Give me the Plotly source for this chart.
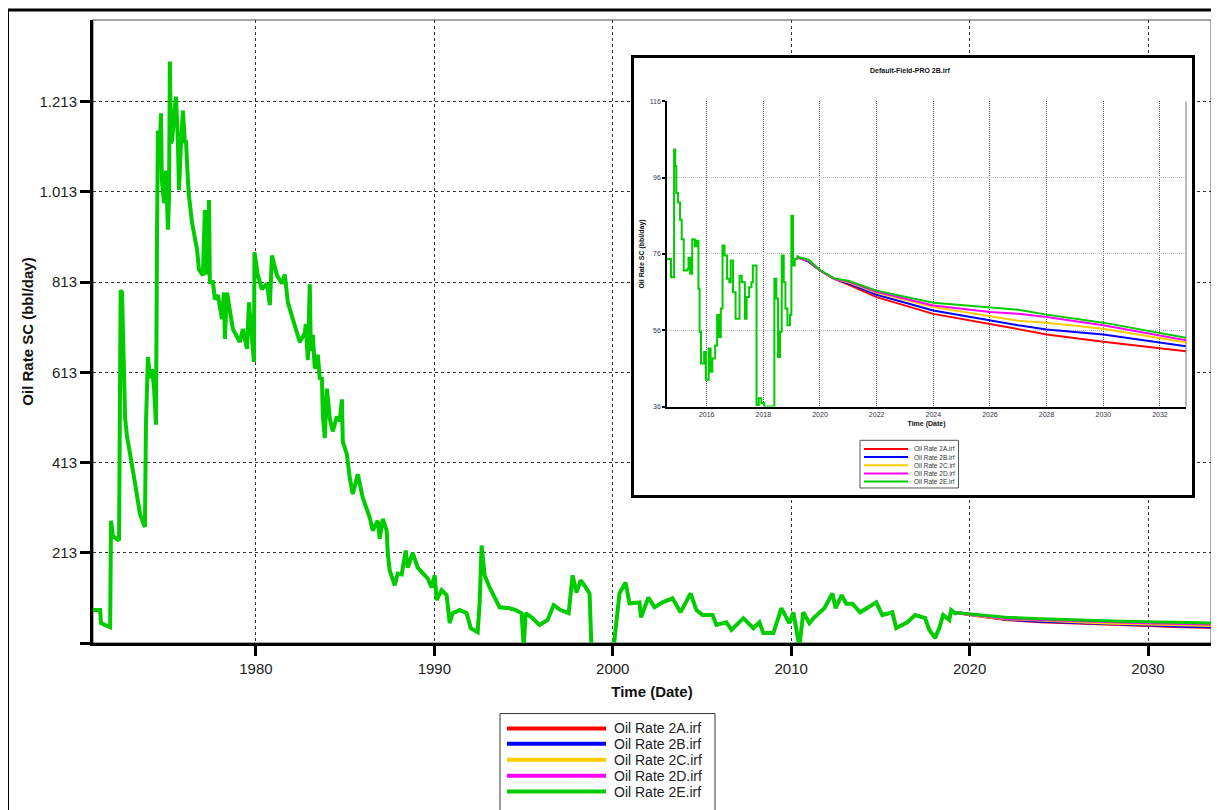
import plotly.graph_objects as go

# ---------------- DATA ----------------
main_hist_years = [1970.87, 1971.27, 1971.32, 1971.71, 1971.83, 1971.88, 1971.99, 1972.16, 1972.33, 1972.42,
    1972.50, 1972.55, 1972.61, 1972.67, 1972.78, 1972.89, 1973.00, 1973.17, 1973.28, 1973.39,
    1973.50, 1973.67, 1973.78, 1973.84, 1973.90, 1973.95, 1974.07, 1974.18, 1974.29, 1974.40,
    1974.46, 1974.51, 1974.62, 1974.68, 1974.73, 1974.85, 1974.96, 1975.07, 1975.13, 1975.18,
    1975.24, 1975.30, 1975.41, 1975.52, 1975.63, 1975.69, 1975.80, 1975.91, 1976.02, 1976.08,
    1976.19, 1976.25, 1976.42, 1976.70, 1976.81, 1977.03, 1977.14, 1977.20, 1977.31, 1977.37,
    1977.42, 1977.59, 1977.70, 1977.87, 1978.10, 1978.21, 1978.26, 1978.38, 1978.71, 1979.10,
    1979.27, 1979.50, 1979.61, 1979.78, 1979.89, 1979.92, 1980.11, 1980.34, 1980.62, 1980.78,
    1980.90, 1981.18, 1981.46, 1981.62, 1981.79, 1982.07, 1982.46, 1982.74, 1982.80, 1982.91,
    1983.02, 1983.08, 1983.19, 1983.30, 1983.47, 1983.58, 1983.70, 1983.75, 1983.86, 1983.98,
    1984.14, 1984.31, 1984.54, 1984.70, 1984.82, 1984.87, 1985.10, 1985.26, 1985.43, 1985.71,
    1985.99, 1986.38, 1986.55, 1986.83, 1986.94, 1987.11, 1987.33, 1987.39, 1987.50, 1987.78,
    1987.95, 1988.17, 1988.40, 1988.51, 1988.79, 1989.07, 1989.35, 1989.63, 1989.85, 1990.02,
    1990.13, 1990.41, 1990.69, 1990.86, 1991.03, 1991.42, 1991.81, 1992.04, 1992.43, 1992.54,
    1992.65, 1992.82, 1993.10, 1993.66, 1994.22, 1994.56, 1994.89, 1995.01, 1995.12, 1995.45,
    1995.90, 1996.35, 1996.69, 1997.08, 1997.53, 1997.75, 1997.97, 1998.20, 1998.42, 1998.70,
    1998.81, 2000.04, 2000.38, 2000.72, 2000.94, 2001.50, 2001.58, 2002.00, 2002.34, 2002.79,
    2003.35, 2003.80, 2004.36, 2004.69, 2005.03, 2005.59, 2005.81, 2006.37, 2006.65, 2007.32,
    2007.88, 2008.22, 2008.44, 2009.00, 2009.45, 2009.90, 2010.12, 2010.46, 2010.68, 2011.02,
    2011.30, 2011.86, 2012.31, 2012.49, 2012.83, 2013.09, 2013.43, 2013.87, 2014.77, 2015.11,
    2015.67, 2015.89, 2016.51, 2016.95, 2017.51, 2017.74, 2018.07, 2018.30, 2018.52, 2018.86,
    2018.97, 2019.19, 2019.30]
main_hist_rate = [86, 86, 57, 50, 48, 284, 250, 245, 240, 795,
    790, 700, 560, 511, 470, 440, 420, 380, 350, 320,
    300, 280, 270, 500, 620, 647, 600, 620, 580, 497,
    922, 1149, 1121, 1187, 1039, 988, 1060, 929, 1000, 1302,
    1121, 1127, 1180, 1224, 1121, 1017, 1120, 1193, 1121, 1127,
    1039, 1004, 945, 885, 841, 828, 973, 830, 850, 995,
    813, 813, 775, 784, 731, 790, 687, 790, 709, 680,
    709, 665, 768, 690, 636, 879, 828, 797, 810, 762,
    872, 828, 810, 830, 768, 731, 680, 700, 720, 640,
    808, 660, 696, 621, 652, 600, 599, 520, 467, 577,
    511, 482, 515, 505, 553, 460, 431, 379, 343, 387,
    335, 291, 262, 284, 244, 288, 262, 211, 174, 141,
    167, 165, 218, 180, 213, 180, 167, 156, 136, 163,
    108, 130, 119, 57, 79, 86, 79, 46, 37, 101,
    229, 163, 136, 92, 90, 86, 79, 5, 79, 70,
    53, 64, 97, 86, 79, 163, 125, 152, 140, 123,
    0, 0, 123, 147, 101, 103, 70, 114, 92, 103,
    112, 81, 123, 86, 75, 75, 53, 59, 42, 68,
    46, 59, 35, 35, 90, 57, 81, 5, 81, 57,
    70, 90, 123, 90, 119, 100, 100, 81, 103, 75,
    81, 46, 59, 75, 68, 42, 24, 46, 75, 64,
    86, 79, 80]

main_fc_years = [2019.3, 2020, 2021, 2022, 2024, 2026, 2028, 2030, 2032, 2033.6]
main_fc_2A = [80, 76, 70, 65, 60, 57, 54, 51, 49, 48]
main_fc_2B = [80, 76, 71, 66, 61, 58, 55, 52, 50, 49]
main_fc_2C = [80, 76, 71, 67, 63, 60, 57, 55, 53, 52]
main_fc_2D = [80, 77, 72, 68, 65, 62, 60, 58, 56, 55]
main_fc_2E = [80, 77, 73, 70, 67, 64, 62, 60, 58, 57]

inset_hist_years = [2014.6, 2014.73, 2014.74, 2014.84, 2014.85, 2014.89, 2014.93, 2014.99, 2015.06, 2015.12,
    2015.19, 2015.32, 2015.36, 2015.42, 2015.49, 2015.58, 2015.65, 2015.71, 2015.75, 2015.80,
    2015.91, 2015.97, 2016.07, 2016.14, 2016.20, 2016.30, 2016.37, 2016.43, 2016.50, 2016.56,
    2016.63, 2016.72, 2016.80, 2016.85, 2016.93, 2017.02, 2017.11, 2017.16, 2017.24, 2017.35,
    2017.41, 2017.50, 2017.58, 2017.63, 2017.74, 2017.76, 2017.84, 2017.93, 2018.03, 2018.33,
    2018.39, 2018.46, 2018.52, 2018.59, 2018.65, 2018.72, 2018.78, 2018.85, 2018.94, 2018.99,
    2019.05, 2019.11, 2019.2]
inset_hist_rate = [74.7, 74.7, 69.9, 69.9, 103.4, 99, 92, 89.5, 85, 79.9,
    71.7, 72, 75, 70.8, 79.9, 78, 79.5, 66.9, 55.6, 47.3,
    50.3, 43, 51.2, 45.1, 48.6, 52, 60, 54.2, 61.7, 78.2,
    75.6, 69.5, 68.6, 74.3, 66, 59, 59, 70.3, 68.6, 59,
    64.7, 67.3, 68.6, 73, 73, 36.4, 38.2, 36.9, 36, 36,
    69.5, 64.3, 49, 55.6, 75.6, 68.6, 61.7, 57.3, 60, 86,
    73, 74.7, 75.7]

inset_fc_years = [2019.2, 2019.6, 2020.0, 2020.5, 2021.0, 2022.0, 2024.0, 2026.0, 2027.0, 2028.0, 2030.0, 2032.92]
inset_fc_2A = [75.1, 74.0, 71.7, 69.5, 68.0, 64.7, 60.3, 57.7, 56.3, 54.9, 53.0, 50.5]
inset_fc_2B = [75.1, 74.0, 71.7, 69.5, 68.3, 65.3, 61.2, 58.6, 57.3, 56.2, 54.9, 51.8]
inset_fc_2C = [75.1, 74.2, 71.7, 69.5, 68.6, 65.8, 62.1, 59.7, 58.5, 58.0, 56.4, 52.8]
inset_fc_2D = [75.1, 74.3, 71.7, 69.5, 68.8, 66.1, 62.5, 60.8, 60.3, 59.5, 57.3, 53.4]
inset_fc_2E = [75.3, 74.5, 71.8, 69.6, 69.0, 66.4, 63.2, 62.1, 61.4, 60.1, 58.0, 54.0]

series_names = ["Oil Rate 2A.irf", "Oil Rate 2B.irf", "Oil Rate 2C.irf", "Oil Rate 2D.irf", "Oil Rate 2E.irf"]
series_colors = ["#ff0000", "#0000ff", "#ffcc00", "#ff00ff", "#00cc00"]

main_ytick_vals = [13, 213, 413, 613, 813, 1013, 1213]
main_ytick_text = ["", "213", "413", "613", "813", "1.013", "1.213"]
main_xtick_vals = [1980, 1990, 2000, 2010, 2020, 2030]
inset_ytick_vals = [36, 56, 76, 96, 116]
inset_xtick_vals = [2016, 2018, 2020, 2022, 2024, 2026, 2028, 2030, 2032]

main_title_x = "Time (Date)"
main_title_y = "Oil Rate SC (bbl/day)"
inset_title = "Default-Field-PRO 2B.irf"

# ---------------- LAYOUT HELPERS (screen pixel -> paper) ----------------
OFF = 8  # page body margin
W, H = 1219 - OFF, 810 - OFF
PL, PR, PT, PB = 93, 1211, 16, 643  # plot area in screen pixels


def fx(x):
    return (x - PL) / (PR - PL)


def fy(y):
    return (PB - y) / (PB - PT)


FONT = "Liberation Sans, Arial, sans-serif"

fig = go.Figure()

# main chart traces
fig.add_trace(go.Scatter(x=main_hist_years, y=main_hist_rate, mode="lines",
                         line=dict(color=series_colors[4], width=4),
                         showlegend=False, xaxis="x", yaxis="y", name=series_names[4]))
main_fc = [main_fc_2A, main_fc_2B, main_fc_2C, main_fc_2D, main_fc_2E]
for name, col, vals in zip(series_names, series_colors, main_fc):
    fig.add_trace(go.Scatter(x=main_fc_years, y=vals, mode="lines", line=dict(color=col, width=3),
                             showlegend=False, xaxis="x", yaxis="y", name=name))

# cover subplot (inset frame)
fig.add_trace(go.Scatter(x=[None], y=[None], xaxis="x2", yaxis="y2", showlegend=False, hoverinfo="skip"))

# inset traces
fig.add_trace(go.Scatter(x=inset_hist_years, y=inset_hist_rate, mode="lines",
                         line=dict(color=series_colors[4], width=2, shape="hv"),
                         showlegend=False, xaxis="x3", yaxis="y3", name=series_names[4]))
inset_fc = [inset_fc_2A, inset_fc_2B, inset_fc_2C, inset_fc_2D, inset_fc_2E]
for name, col, vals in zip(series_names, series_colors, inset_fc):
    fig.add_trace(go.Scatter(x=inset_fc_years, y=vals, mode="lines", line=dict(color=col, width=2),
                             showlegend=False, xaxis="x3", yaxis="y3", name=name))

axis_common = dict(zeroline=False, fixedrange=True)

fig.update_layout(
    width=W, height=H, autosize=False,
    margin=dict(l=PL - OFF, r=1219 - PR, t=PT - OFF, b=810 - PB, pad=0),
    paper_bgcolor="white", plot_bgcolor="white",
    font=dict(family=FONT, color="#222222"),
    showlegend=False,
    xaxis=dict(**axis_common, domain=[0, 1], anchor="y", range=[1970.87, 2033.53],
               tickmode="array", tickvals=main_xtick_vals,
               ticks="outside", ticklen=10, tickwidth=3, tickcolor="black",
               showline=True, linewidth=3, linecolor="black",
               showgrid=True, gridcolor="#333333", gridwidth=1, griddash="3px,3px",
               tickfont=dict(size=15, color="#222222"),
               title=dict(text="<b>" + main_title_x + "</b>", font=dict(size=15, color="#111111"), standoff=11)),
    yaxis=dict(**axis_common, domain=[0, 1], anchor="x", range=[13, 1394],
               tickmode="array", tickvals=main_ytick_vals, ticktext=main_ytick_text,
               ticks="outside", ticklen=10, tickwidth=3, tickcolor="black",
               showline=True, linewidth=3, linecolor="black",
               showgrid=True, gridcolor="#333333", gridwidth=1, griddash="3px,3px",
               tickfont=dict(size=15, color="#222222"),
               title=dict(text="<b>" + main_title_y + "</b>", font=dict(size=15, color="#111111"), standoff=3)),
    xaxis2=dict(**axis_common, domain=[fx(634), fx(1192)], anchor="y2", range=[0, 1],
                showgrid=False, showticklabels=False, ticks="",
                showline=True, mirror=True, linewidth=3, linecolor="black"),
    yaxis2=dict(**axis_common, domain=[fy(494), fy(54)], anchor="x2", range=[0, 1],
                showgrid=False, showticklabels=False, ticks="",
                showline=True, mirror=True, linewidth=3, linecolor="black"),
    xaxis3=dict(**axis_common, domain=[fx(667), fx(1186)], anchor="y3", range=[2014.6, 2032.92],
                tickmode="array", tickvals=inset_xtick_vals, ticks="",
                showline=True, linewidth=1.5, linecolor="black",
                showgrid=True, gridcolor="#555555", gridwidth=1, griddash="1px,1px",
                tickfont=dict(size=7, color="#333344"),
                title=dict(text="<b>" + main_title_x + "</b>", font=dict(size=7, color="#111111"), standoff=4)),
    yaxis3=dict(**axis_common, domain=[fy(405), fy(98)], anchor="x3", range=[36, 116],
                tickmode="array", tickvals=inset_ytick_vals,
                ticks="outside", ticklen=3, tickwidth=1.5, tickcolor="black",
                showline=True, linewidth=1.5, linecolor="black",
                showgrid=True, gridcolor="#bbbbbb", gridwidth=1, griddash="1px,1px",
                tickfont=dict(size=7, color="#333355"),
                title=dict(text="<b>" + main_title_y + "</b>", font=dict(size=7, color="#111111"), standoff=4)),
)

shapes = []
# outer frame
shapes.append(dict(type="rect", xref="paper", yref="paper", x0=fx(7.5), x1=fx(1217), y0=fy(830), y1=fy(6),
                   line=dict(color="black", width=3), fillcolor="rgba(0,0,0,0)", layer="below"))
# main plot light border (top/right)
shapes.append(dict(type="rect", xref="paper", yref="paper", x0=0, x1=1, y0=0, y1=1,
                   line=dict(color="#888888", width=1.5), fillcolor="rgba(0,0,0,0)", layer="below"))
# inset right edge line
shapes.append(dict(type="line", xref="x3 domain", yref="y3 domain", x0=1, x1=1, y0=0, y1=1,
                   line=dict(color="#777777", width=1), layer="above"))

annotations = []
# inset title
annotations.append(dict(xref="paper", yref="paper", x=fx(910), y=fy(67), text="<b>" + inset_title + "</b>",
                        showarrow=False, xanchor="center", yanchor="middle", font=dict(size=7, color="#111111")))

# main legend (drawn manually)
shapes.append(dict(type="rect", xref="paper", yref="paper", x0=fx(500), x1=fx(715), y0=fy(830), y1=fy(714),
                   line=dict(color="#333333", width=1), fillcolor="white", layer="above"))
main_leg_rows = [729, 744.5, 760.5, 776.5, 792.5]
for name, col, ry in zip(series_names, series_colors, main_leg_rows):
    shapes.append(dict(type="line", xref="paper", yref="paper", x0=fx(507), x1=fx(606), y0=fy(ry), y1=fy(ry),
                       line=dict(color=col, width=4), layer="above"))
    annotations.append(dict(xref="paper", yref="paper", x=fx(612), y=fy(ry), text=name, showarrow=False,
                            xanchor="left", yanchor="middle", font=dict(size=14, color="#222222")))

# inset legend (drawn manually)
shapes.append(dict(type="rect", xref="paper", yref="paper", x0=fx(860), x1=fx(958.5), y0=fy(487), y1=fy(439),
                   line=dict(color="#555555", width=1), fillcolor="white", layer="above"))
inset_leg_rows = [447.7, 455.9, 464.1, 472.3, 480.5]
for name, col, ry in zip(series_names, series_colors, inset_leg_rows):
    shapes.append(dict(type="line", xref="paper", yref="paper", x0=fx(864), x1=fx(908), y0=fy(ry), y1=fy(ry),
                       line=dict(color=col, width=2), layer="above"))
    annotations.append(dict(xref="paper", yref="paper", x=fx(912), y=fy(ry), text=name, showarrow=False,
                            xanchor="left", yanchor="middle", font=dict(size=6.5, color="#333333")))

fig.update_layout(shapes=shapes, annotations=annotations)

fig.write_html("out.html")
